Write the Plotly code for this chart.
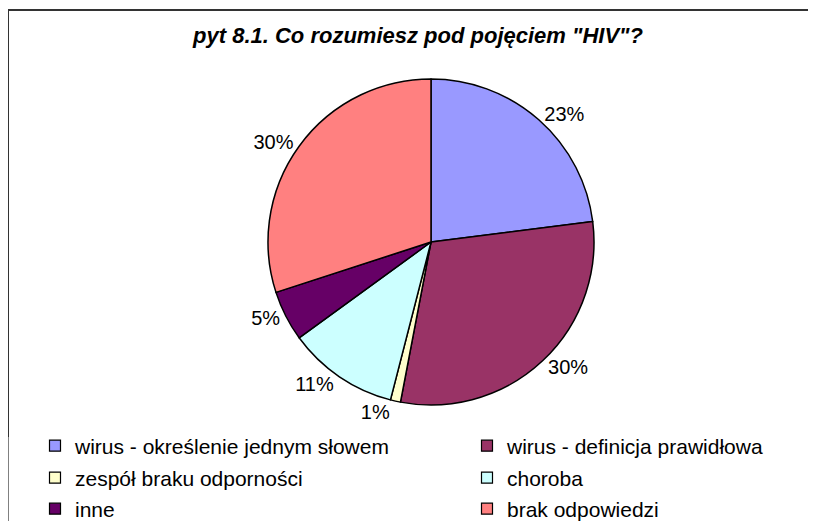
import plotly.graph_objects as go

# dane z wykresu
kategorie = [
    "wirus - określenie jednym słowem",
    "wirus - definicja prawidłowa",
    "zespół braku odporności",
    "choroba",
    "inne",
    "brak odpowiedzi",
]
procenty = [23, 30, 1, 11, 5, 30]
kolory = ["#9999FF", "#993366", "#FFFFCC", "#CCFFFF", "#660066", "#FF8080"]

# strona ma domyślny margines 8 px, więc figura jest o 8 px mniejsza
OFF = 8
W, H = 816 - OFF, 521 - OFF
cx, cy, r = 431 - OFF, 242 - OFF, 163


def px(x):
    return (x - OFF) / W


def py(y):
    return 1 - (y - OFF) / H


fig = go.Figure()

fig.add_trace(go.Pie(
    labels=kategorie,
    values=procenty,
    sort=False,
    direction="clockwise",
    rotation=0,
    marker=dict(colors=kolory, line=dict(color="black", width=1.5)),
    textinfo="percent",
    texttemplate="%{value}%",
    textposition="outside",
    outsidetextfont=dict(family="Arial, Liberation Sans", size=20, color="black"),
    showlegend=False,
    hoverinfo="label+percent",
    domain=dict(x=[(cx - r) / W, (cx + r) / W], y=[1 - (cy + r) / H, 1 - (cy - r) / H]),
))

# legenda: 3 wiersze x 2 kolumny (punkty-atrapy poza zakresem osi)
kol_x = [35, 467]
wiersz_y = [446, 478, 509]
legendy = {}
for i, (nazwa, kolor) in enumerate(zip(kategorie, kolory)):
    lid = "legend" if i == 0 else f"legend{i + 1}"
    fig.add_trace(go.Scatter(
        x=[0], y=[0], mode="markers", name=nazwa,
        marker=dict(symbol="square", size=11, color=kolor, line=dict(color="black", width=1.2)),
        legend=lid, showlegend=True, hoverinfo="skip",
    ))
    legendy[lid] = dict(
        x=px(kol_x[i % 2]), y=py(wiersz_y[i // 2]),
        xanchor="left", yanchor="middle",
        bgcolor="rgba(0,0,0,0)", borderwidth=0,
        font=dict(family="Arial, Liberation Sans", size=21, color="black"),
    )

fig.update_layout(
    width=W, height=H,
    margin=dict(l=0, r=0, t=0, b=0, autoexpand=False),
    paper_bgcolor="white", plot_bgcolor="white",
    title=dict(
        text='<b><i>pyt 8.1. Co rozumiesz pod pojęciem "HIV"?</i></b>',
        x=px(418), xanchor="center", xref="container",
        y=py(35), yanchor="middle", yref="container",
        font=dict(family="Arial, Liberation Sans", size=22, color="black"),
    ),
    xaxis=dict(visible=False, range=[5, 6], domain=[0, 1]),
    yaxis=dict(visible=False, range=[5, 6], domain=[0, 1]),
    shapes=[
        dict(type="line", xref="paper", yref="paper", x0=px(8), x1=1, y0=py(10), y1=py(10),
             line=dict(color="#333333", width=2)),
        dict(type="line", xref="paper", yref="paper", x0=px(8), x1=px(8), y0=py(437), y1=py(10),
             line=dict(color="#333333", width=2)),
        dict(type="line", xref="paper", yref="paper", x0=px(8), x1=px(8), y0=0, y1=py(437),
             line=dict(color="#808080", width=2)),
    ],
    **legendy,
)

fig.write_html("out.html")
